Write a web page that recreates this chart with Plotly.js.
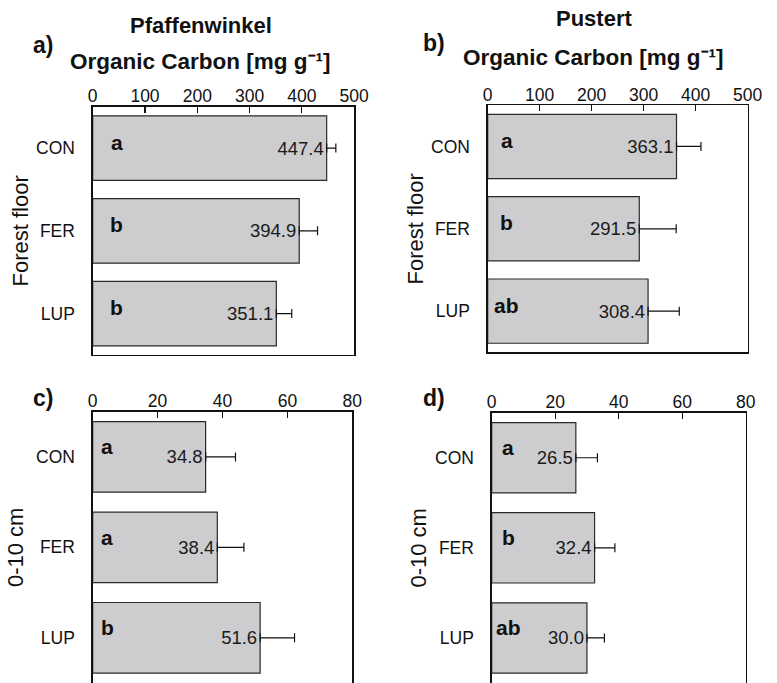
<!DOCTYPE html>
<html>
<head>
<meta charset="utf-8">
<script src="https://cdn.plot.ly/plotly-3.0.1.min.js"></script>
<style>html,body{margin:0;padding:0;background:#fff;overflow:hidden}#chart{width:777px;height:683px}</style>
</head>
<body>
<div id="chart"></div>
<script>
// ---- data ----
const categories = ['CON', 'FER', 'LUP'];
const pfaffFloor = [447.4, 394.9, 351.1];
const pfaffFloorErr = [17.5, 35, 29.5];
const pfaffFloorLetters = ['a', 'b', 'b'];
const pusterFloor = [363.1, 291.5, 308.4];
const pusterFloorErr = [47, 71, 60];
const pusterFloorLetters = ['a', 'b', 'ab'];
const pfaffSoil = [34.8, 38.4, 51.6];
const pfaffSoilErr = [9.2, 8.2, 10.6];
const pfaffSoilLetters = ['a', 'a', 'b'];
const pusterSoil = [26.5, 32.4, 30.0];
const pusterSoilErr = [6.8, 6.4, 5.5];
const pusterSoilLetters = ['a', 'b', 'ab'];
const noLower = [0, 0, 0];
const floorTicks = [0, 100, 200, 300, 400, 500];
const soilTicks = [0, 20, 40, 60, 80];
const siteNames = ['Pfaffenwinkel', 'Pustert'];
const depthNames = ['Forest floor', '0-10 cm'];
const panelLabels = ['a)', 'b)', 'c)', 'd)'];
const unitTitle = 'Organic Carbon [mg g\u207B\u00B9]';

// ---- styling ----
const FONT = 'Liberation Sans, Arial, Helvetica, sans-serif';
const W = 777, H = 683;
const px = v => v / W;
const py = v => 1 - v / H;

function barTrace(vals, errs, xa, ya) {
  return {
    type: 'bar', orientation: 'h',
    x: vals, y: categories, xaxis: xa, yaxis: ya,
    marker: {color: '#cdcdcf', line: {color: '#2a2a2a', width: 1.2}},
    error_x: {type: 'data', array: errs, arrayminus: noLower, symmetric: false,
              color: '#111', thickness: 1.2, width: 4.5},
    texttemplate: '%{x:.1f}', textposition: 'inside', insidetextanchor: 'end',
    textangle: 0, constraintext: 'none', cliponaxis: false,
    textfont: {family: FONT, size: 18.5, color: '#1a1a1a'},
    hoverinfo: 'skip', showlegend: false
  };
}

const data = [
  barTrace(pfaffFloor, pfaffFloorErr, 'x', 'y'),
  barTrace(pusterFloor, pusterFloorErr, 'x2', 'y2'),
  barTrace(pfaffSoil, pfaffSoilErr, 'x3', 'y3'),
  barTrace(pusterSoil, pusterSoilErr, 'x4', 'y4')
];

function xAxis(dom, ya, rng, ticks, mirror) {
  return {
    domain: dom, anchor: ya, side: 'top', range: rng, tickvals: ticks,
    ticks: 'inside', ticklen: 6, tickwidth: 1.1, tickcolor: '#111',
    showline: true, linecolor: '#111', linewidth: 1.3, mirror: mirror,
    showgrid: false, zeroline: false, fixedrange: true, ticklabelstandoff: -4,
    tickfont: {family: FONT, size: 17.5, color: '#111'}
  };
}
function yAxis(dom, xa, title, standoff) {
  return {
    domain: dom, anchor: xa, type: 'category', range: [2.5, -0.5],
    ticks: '', showline: true, linecolor: '#111', linewidth: 1.3, mirror: true,
    showgrid: false, zeroline: false, fixedrange: true, ticklabelstandoff: 13,
    tickfont: {family: FONT, size: 17.5, color: '#111'},
    title: {text: title, standoff: standoff, font: {family: FONT, size: 22, color: '#111'}}
  };
}

const annotations = [];
function txt(x, y, text, size, extra) {
  annotations.push(Object.assign({
    xref: 'paper', yref: 'paper', x: px(x), y: py(y), text: text,
    showarrow: false, xanchor: 'center', yanchor: 'middle',
    font: {family: FONT, size: size, color: '#111'}
  }, extra || {}));
}
// titles
txt(200.5, 25, '<b>' + siteNames[0] + '</b>', 22);
txt(594, 18, '<b>' + siteNames[1] + '</b>', 22);
txt(200, 61, '<b>' + unitTitle + '</b>', 22.5);
txt(593, 57, '<b>' + unitTitle + '</b>', 22.5);
// panel labels
txt(43, 45, '<b>' + panelLabels[0] + '</b>', 23);
txt(434, 43, '<b>' + panelLabels[1] + '</b>', 23);
txt(43, 398, '<b>' + panelLabels[2] + '</b>', 23);
txt(434, 398, '<b>' + panelLabels[3] + '</b>', 23);
// significance letters
function letters(list, xa, ya, xpos, shift) {
  list.forEach((l, i) => annotations.push({
    xref: xa + ' domain', yref: ya, x: xpos, y: categories[i],
    text: '<b>' + l + '</b>', showarrow: false, xanchor: 'center', yanchor: 'middle',
    yshift: shift, font: {family: FONT, size: 21, color: '#111'}
  }));
}
letters(pfaffFloorLetters, 'x', 'y', 0.092, 6);
letters(pusterFloorLetters, 'x2', 'y2', 0.074, 6);
letters(pfaffSoilLetters, 'x3', 'y3', 0.057, 10);
letters(pusterSoilLetters, 'x4', 'y4', 0.065, 10);

const layout = {
  width: W, height: H, margin: {l: 0, r: 0, t: 0, b: 0},
  paper_bgcolor: '#fff', plot_bgcolor: '#fff',
  bargap: 0.22, showlegend: false,
  font: {family: FONT, color: '#111'},
  xaxis: xAxis([px(92.7), px(354.2)], 'y', [0, 500], floorTicks, true),
  yaxis: yAxis([py(355), py(106.7)], 'x', depthNames[0], 1),
  xaxis2: xAxis([px(487.7), px(747.7)], 'y2', [0, 500], floorTicks, true),
  yaxis2: yAxis([py(352.3), py(105.3)], 'x2', depthNames[0], 1),
  xaxis3: xAxis([px(92.7), px(352.3)], 'y3', [0, 80], soilTicks, false),
  yaxis3: yAxis([0, py(411.7)], 'x3', depthNames[1], 6),
  xaxis4: xAxis([px(491.7), px(745.7)], 'y4', [0, 80], soilTicks, false),
  yaxis4: yAxis([0, py(412.7)], 'x4', depthNames[1], 2),
  annotations: annotations
};

Plotly.newPlot('chart', data, layout, {displayModeBar: false, staticPlot: true});
</script>
</body>
</html>
